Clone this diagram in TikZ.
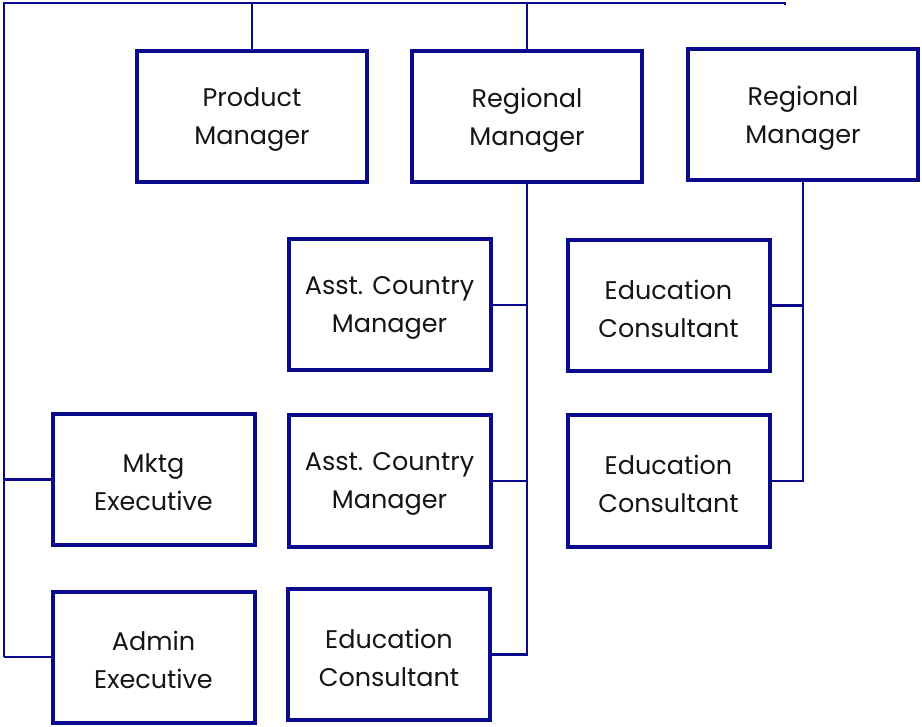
\documentclass[tikz,border=0pt]{standalone}
\usepackage{fontspec}
\setmainfont{Poppins}
\definecolor{navy}{HTML}{0A0A8C}
\definecolor{txt}{HTML}{151515}
\begin{document}
\begin{tikzpicture}[x=1pt,y=-1pt,
  box/.style={draw=navy,line width=4pt,minimum width=#1,minimum height=131pt,inner sep=0pt},
  box/.default=230pt,
  lab/.style={align=center,inner sep=0pt,text=txt,font=\fontsize{25.5}{38}\selectfont,yshift=-3pt},
  conn/.style={draw=navy,line width=2.2pt}]
\useasboundingbox (0,0) rectangle (922,727);
\node[box=230pt,label={[lab]center:Product\\Manager}] (pm)  at (252,117) {};
\node[box=230pt,label={[lab]center:Regional\\Manager}] (rm1) at (527,117) {};
\node[box=230pt,label={[lab]center:Regional\\Manager}] (rm2) at (803,115) {};
\node[box=202pt,label={[lab]center:Asst. Country\\Manager}] (acm1) at (389.5,305) {};
\node[box=202pt,label={[lab]center:Education\\Consultant}] (ec1) at (668.5,305.5) {};
\node[box=202pt,label={[lab]center:Mktg\\Executive}] (mk) at (153.5,479.5) {};
\node[box=202pt,label={[lab]center:Asst. Country\\Manager}] (acm2) at (389.5,481) {};
\node[box=202pt,label={[lab]center:Education\\Consultant}] (ec2) at (668.5,481) {};
\node[box=202pt,label={[lab]center:Admin\\Executive}] (ad) at (153.5,657) {};
\node[box=202pt,label={[lab]center:Education\\Consultant}] (ec3) at (389,654.5) {};
\coordinate (tl) at (4,3);
\coordinate (tr) at (785,3);
\coordinate (trd) at (785,5);
\coordinate (bl) at (4,657);
% top bus
\draw[conn] (bl) -- (tl) -- (tr) -- (trd);
\draw[conn] (pm.north |- tl) -- (pm.north);
\draw[conn] (rm1.north |- tl) -- (rm1.north);
% left bus
\draw[conn] (tl |- mk.west) -- (mk.west);
\draw[conn] (tl |- ad.west) -- (ad.west);
% rm1 bus
\draw[conn] (rm1.south) -- (rm1.south |- ec3.east) -- (ec3.east);
\draw[conn] (rm1.south |- acm1.east) -- (acm1.east);
\draw[conn] (rm1.south |- acm2.east) -- (acm2.east);
% rm2 bus
\draw[conn] (rm2.south) -- (rm2.south |- ec2.east) -- (ec2.east);
\draw[conn] (rm2.south |- ec1.east) -- (ec1.east);
\end{tikzpicture}
\end{document}
